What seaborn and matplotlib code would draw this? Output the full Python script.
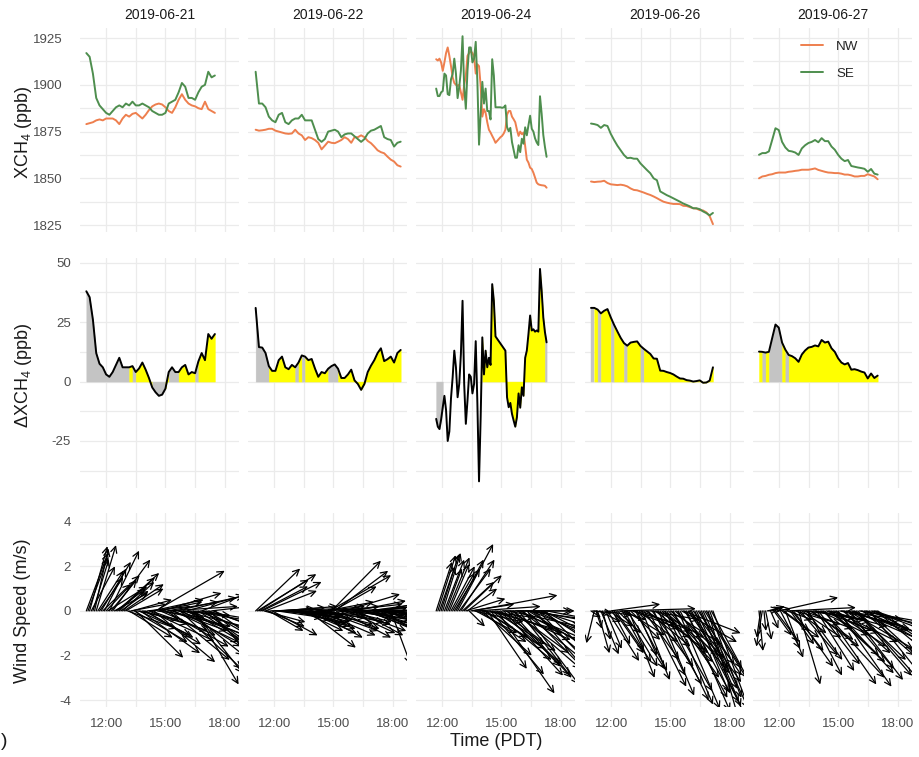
import numpy as np
import pandas as pd
import matplotlib
matplotlib.use("Agg")
import matplotlib.pyplot as plt
from matplotlib.patches import FancyArrowPatch
from matplotlib.lines import Line2D
import seaborn as sns

# ---------------------------------------------------------------- data
days = ["2019-06-21", "2019-06-22", "2019-06-24", "2019-06-26", "2019-06-27"]
start_times = ["11:00", "11:04", "11:42", "10:59", "10:59"]
step_minutes = [10, 10, 5, 10, 10]
wind_step_minutes = [5, 5, 5, 5, 5]

# column-averaged methane (ppb) at the north-west and south-east sites
nw_0621 = [1879, 1879.5, 1880, 1881, 1881.5, 1881, 1882, 1882, 1882, 1881,
           1879, 1882, 1884, 1883, 1884.5, 1885, 1883.5, 1882, 1884, 1886.5,
           1888.5, 1889.5, 1890, 1889.5, 1888, 1886, 1885, 1888, 1892, 1895,
           1892, 1890, 1889, 1888.5, 1887.5, 1887, 1891, 1887, 1886, 1885]
se_0621 = [1917, 1915, 1906, 1893, 1889, 1887, 1885, 1884, 1886, 1888,
           1889, 1888, 1890, 1889, 1891, 1889, 1889, 1890, 1889, 1888,
           1886, 1885, 1884, 1884, 1885, 1890, 1891, 1892, 1896, 1901,
           1899, 1893, 1893, 1892, 1896, 1899, 1900, 1907, 1904, 1905]

nw_0622 = [1876, 1875.5, 1875.7, 1876, 1876.5, 1876.5, 1875.5, 1875, 1874.5, 1874,
           1873.8, 1874, 1876, 1874, 1873, 1870.5, 1872, 1871.5, 1870.5, 1869,
           1865.5, 1867.5, 1869.6, 1869, 1868.8, 1869.6, 1870.5, 1872, 1871, 1869,
           1872, 1872, 1873, 1872, 1870, 1868.8, 1867, 1865, 1864, 1863.4,
           1861.6, 1860, 1859, 1857, 1856.3]
se_0622 = [1907, 1890, 1890, 1888, 1883, 1881, 1880, 1884, 1885, 1880,
           1879, 1881, 1882, 1882, 1884, 1881, 1881, 1881, 1876, 1871,
           1869.5, 1871, 1875, 1875.5, 1876, 1875, 1872, 1873.5, 1874, 1874,
           1872.5, 1871, 1869.5, 1871, 1874, 1875.5, 1876, 1877, 1878, 1872,
           1871, 1870.5, 1867, 1869, 1869.6]

nw_0624 = [1913.7, 1913.0, 1914.0, 1912.0, 1907.5, 1912.0, 1917.0, 1920.0, 1915.5, 1910.0,
           1904.0, 1901.0, 1900.0, 1899.5, 1900.0, 1896.0, 1892.0, 1900.0, 1905.0, 1915.5,
           1917.0, 1918.0, 1917.0, 1915.0, 1906.0, 1911.0, 1910.0, 1899.5, 1883.0, 1887.0,
           1885.0, 1880.0, 1876.0, 1874.5, 1872.7, 1871.0, 1869.0, 1870.0, 1871.0, 1872.0,
           1872.7, 1874.0, 1876.0, 1884.0, 1886.0, 1886.0, 1883.0, 1881.6, 1880.0, 1876.0,
           1872.7, 1875.0, 1873.6, 1874.5, 1867.3, 1860.0, 1858.4, 1855.7, 1855.0, 1853.0,
           1850.4, 1847.7, 1846.8, 1846.5, 1846.3, 1846.2, 1846.0, 1845.0]
se_0624 = [1898.0, 1894.0, 1894.0, 1896.0, 1896.7, 1906.0, 1905.0, 1895.0, 1894.5, 1903.0,
           1905.8, 1914.0, 1906.0, 1892.9, 1899.0, 1907.6, 1926.0, 1899.0, 1887.2, 1907.5,
           1920.0, 1920.0, 1912.0, 1914.0, 1923.0, 1902.0, 1868.0, 1884.5, 1901.6, 1890.0,
           1898.0, 1886.0, 1886.0, 1881.5, 1913.7, 1905.0, 1888.0, 1888.0, 1888.0, 1888.0,
           1887.7, 1888.0, 1889.0, 1877.4, 1875.2, 1877.0, 1869.4, 1865.2, 1861.0, 1861.0,
           1867.7, 1864.0, 1871.2, 1868.5, 1877.3, 1873.0, 1878.4, 1883.5, 1876.5, 1875.0,
           1871.4, 1869.2, 1867.8, 1893.9, 1884.6, 1873.2, 1866.8, 1861.5]

nw_0626 = [1848.3, 1848, 1848.2, 1848.3, 1848.7, 1847.5, 1846.8, 1846.6, 1846.4, 1846.6,
           1846.3, 1845.7, 1844.6, 1843.8, 1843.6, 1843, 1842.4, 1841.7, 1841.1, 1840.3,
           1839.4, 1838.4, 1837.5, 1837, 1836.6, 1836.3, 1836.3, 1836.2, 1835.3, 1835.2,
           1834.6, 1834, 1833.8, 1833, 1832.8, 1831.8, 1829.8, 1825.5]
se_0626 = [1879.3, 1879, 1878.5, 1877, 1878.5, 1878, 1873.8, 1870.5, 1867.5, 1865,
           1862.5, 1860.8, 1861, 1860.5, 1860.5, 1858, 1856.2, 1854.4, 1852.7, 1850,
           1849, 1843, 1842, 1841, 1840.2, 1839.3, 1838.4, 1837.5, 1836.5, 1835.8,
           1835, 1834, 1834, 1833.5, 1832.3, 1831.4, 1830.2, 1831.5]

nw_0627 = [1850, 1851, 1851.3, 1851.9, 1852.2, 1852.8, 1853.1, 1853.1, 1853.1, 1853.5,
           1853.7, 1854, 1854.2, 1854.6, 1854.6, 1854.6, 1854.9, 1855.3, 1854.5, 1854,
           1853.5, 1853.1, 1853, 1852.8, 1852.8, 1852.5, 1852, 1852, 1851.6, 1851,
           1851, 1851.3, 1851.3, 1852.2, 1851.6, 1851, 1849.5]
se_0627 = [1862.6, 1863.5, 1863.5, 1864.4, 1870.5, 1876.8, 1875.8, 1869.5, 1866.5, 1864.7,
           1864.4, 1863.8, 1862.5, 1866, 1867.7, 1868.9, 1869.5, 1870.5, 1869.3, 1871.5,
           1869.9, 1869.9, 1867, 1865.3, 1862.6, 1860.5, 1859.2, 1859.8, 1856.6, 1856.2,
           1855.8, 1855.5, 1855.1, 1853.5, 1855, 1852.5, 1852]

# wind-sector class of each interval: Y = downwind of the north-west site,
# G = other sectors, N = no wind classification
sector_0621 = "GGGGGGGGGGGGG" "Y" "G" "YYYYY" "GGGG" "Y" "GGG" "YYYYY" "G" "YYYYYY"
sector_0622 = "GGGG" "YYYYYYYY" "G" "Y" "G" "YYYYYYY" "GGG" "YYYYYYYYYYYYYYYYYYYY"
sector_0624 = "GGGG" + "N" * 24 + "Y" * 38 + "GG"
sector_0626 = "G" "Y" "G" "YYY" "G" "YYY" "G" "YYYY" "G" + "Y" * 22
sector_0627 = "Y" "G" "Y" "GGGG" "Y" "G" + "Y" * 28

# wind components (m/s), 5-minute records: u east-west, v north-south
wind_u_0621 = [1.1, 1.0, 0.9, 1.2, 0.8, 0.7, 1.0, 1.3, 1.2, 1.5,
               1.4, 1.1, 1.7, 2.0, 1.5, 1.3, 1.9, 1.7, 1.5, 2.1,
               1.8, 1.4, 1.6, 2.0, 1.9, 2.5, 2.2, 1.8, 2.0, 2.7,
               2.4, 2.1, 2.6, 3.0, 2.3, 2.5, 2.8, 2.2, 3.3, 2.9,
               2.6, 3.1, 3.5, 2.4, 2.2, 2.8, 3.0, 3.4, 3.2, 2.6,
               3.5, 3.0, 2.8, 3.3, 3.1, 2.7, 3.4, 3.1, 3.0, 3.5,
               3.6, 2.9, 2.8, 3.2, 3.3, 2.5, 2.2, 3.1, 3.0, 2.8,
               2.7, 3.3, 3.2, 2.9, 3.5, 3.0, 2.9, 3.4, 3.2]
wind_v_0621 = [2.6, 2.4, 2.9, 2.0, 2.3, 2.8, 2.95, 1.8, 1.5, 2.2,
               1.2, 1.9, 1.6, 1.1, 2.7, 1.4, 2.3, 0.8, 1.0, 1.7,
               1.5, 0.9, 1.3, 1.2, 1.0, -0.8, -1.2, 0.3, 0.5, -1.4,
               -2.1, -0.4, -1.1, -1.9, -0.6, -1.2, -1.5, 0.2, -1.35, -0.9,
               0.5, -2.3, 1.8, -0.3, 0.4, -1.1, 0.8, -0.7, -1.6, 0.4,
               0.2, -2.2, -0.9, -1.4, 0.6, -0.2, -1.1, -2.6, -1.6, -0.8,
               -1.3, 0.7, -2.0, -1.7, -0.5, -2.8, -3.3, -1.0, -1.8, -0.4,
               0.9, -2.1, -2.4, -1.5, -1.0, -2.9, 0.3, -1.2, -2.0]

wind_u_0622 = [2.25, 2.6, 2.9, 2.4, 3.0, 2.1, 2.6, 1.9, 1.75, 2.2,
               2.3, 2.7, 2.0, 2.3, 2.5, 2.9, 2.2, 2.0, 2.8, 2.5,
               2.4, 2.7, 2.0, 2.4, 2.6, 2.2, 2.3, 2.8, 2.1, 2.5,
               2.6, 2.2, 2.4, 2.8, 2.0, 2.5, 2.6, 2.3, 2.9, 2.7,
               2.2, 2.8, 3.0, 2.4, 2.6, 3.1, 2.5, 2.2, 2.7, 2.9,
               2.1, 2.6, 2.5, 3.0, 2.8, 2.3, 2.4, 2.9, 3.0, 2.7,
               2.6, 2.4, 2.3, 2.8, 3.0, 2.5, 2.7, 3.1, 2.5, 2.8,
               3.1, 2.7, 2.6, 2.9, 2.8, 2.4, 3.0, 2.6, 2.5, 3.0,
               2.9, 2.3, 1.0, 2.6, 2.4, 2.8, 2.2, 2.5, 2.0]
wind_v_0622 = [1.9, 1.4, 1.65, 1.1, 1.3, -0.5, 0.9, -0.7, -0.9, 0.05,
               -1.1, -0.1, 0.1, -0.3, -0.2, 0.2, 0.15, -0.1, -0.3, 0.1,
               -0.1, -0.5, -0.4, -0.2, -0.6, -0.3, -0.2, -0.8, -0.9, -0.4,
               -1.0, -0.5, -1.65, -0.2, -0.7, -1.2, -0.3, 0.1, -1.1, -0.6,
               0.2, -0.9, -0.5, 0.4, -0.8, 1.6, 2.25, 1.1, 1.8, -0.2,
               0.2, -1.2, -0.6, 0.3, 0.75, -0.5, -1.0, 0.1, -0.4, -0.9,
               0.45, -0.2, -1.1, 0.0, -0.7, -0.4, 0.2, -1.0, -0.9, 0.35,
               -0.3, -0.8, -1.0, -0.2, 0.3, -1.1, -0.6, 0.5, -0.8, -0.3,
               0.1, -0.9, -2.4, -0.6, -0.5, -1.0, 0.0, -0.7, -0.4]

wind_u_0624 = [0.8, 0.9, 1.0, 0.7, 0.9, 1.0, 0.8, 1.1, 1.0, 1.2,
               1.1, 1.3, 1.4, 1.8, 1.6, 1.7, 1.6, 1.9, 2.0, 1.5,
               0.8, 2.2, 4.3, 2.5, 2.1, 3.2, 2.4, 2.8, 2.5, 2.2,
               3.0, 2.0, 3.3, 2.7, 3.0, 2.6, 3.4, 2.9, 3.2, 2.8,
               3.5, 3.0, 3.3, 2.7, 3.6, 3.1, 2.9, 3.4, 3.0, 3.2,
               2.6, 3.5, 3.1, 2.8, 3.3, 3.0, 3.4, 2.9, 3.2, 3.6,
               3.0, 3.3, 2.8, 3.1, 3.5, 2.9, 3.2, 3.0]
wind_v_0624 = [2.2, 2.5, 2.55, 2.0, 2.6, 2.3, 1.9, 2.4, 2.1, 2.0,
               1.7, 1.9, 2.3, 3.0, 1.9, 2.3, 1.3, 1.6, 0.55, 1.0,
               -0.7, 0.3, 0.7, -0.5, -1.0, 0.2, -1.4, -0.3, -2.0, -1.2,
               -1.7, -2.6, -0.8, -2.85, -2.2, -1.5, -1.0, -3.7, -2.4, -1.8,
               0.0, -2.9, -1.3, -2.5, -0.7, -3.0, -1.9, -2.6, 0.0, -1.2,
               -2.9, -1.6, -2.2, -3.3, -0.4, -2.7, -1.9, -1.0, -2.4, -0.6,
               -3.1, -1.5, -2.6, -0.9, -2.0, -1.3, -2.8, -0.5]

wind_u_0626 = [0.5, 1.0, -0.4, 0.3, 0.6, 1.1, 0.9, 0.4, 1.4, 0.8,
               1.6, 1.2, 2.5, 0.9, 1.5, 1.8, 1.2, 1.4, 3.8, 1.1,
               1.7, 2.0, 1.9, 1.3, 1.5, 2.4, 2.2, 1.6, 1.0, 2.0,
               2.6, 1.4, 1.8, 2.3, 2.2, 1.9, 2.5, 2.1, 1.6, 2.7,
               2.4, 1.8, 2.1, 2.6, 2.8, 2.2, 2.3, 1.9, 2.6, 2.4,
               2.0, 2.5, 2.7, 2.1, 2.4, 2.8, 2.9, 2.3, 2.2, 2.0,
               2.6, 2.4, 2.1, 1.7, 2.5, 2.2, 1.9, 2.0, 2.3, 2.1,
               1.8, 1.5, 1.6, 2.0, 1.9]
wind_v_0626 = [-0.3, -0.1, -1.45, -0.8, -1.9, -0.5, -1.95, -1.3, -0.2, -1.7,
               -2.25, -0.7, 0.3, -1.5, -1.9, -2.3, -1.0, -0.4, 0.1, -1.8,
               -2.5, -1.1, -2.6, -3.0, -1.3, -0.8, -0.6, -2.7, -2.0, -1.4,
               -0.9, -3.1, -2.2, -1.2, -1.6, -3.4, -0.4, -2.5, -2.9, -1.9,
               -1.2, -3.8, -3.3, -2.3, -2.0, -4.0, -3.6, -1.8, -1.5, -3.0,
               -4.2, -2.1, -2.8, -4.4, -3.9, -1.4, -1.0, -3.7, -4.5, -2.6,
               -3.2, -4.1, -2.4, -3.6, -4.8, -2.9, -3.5, -4.3, -4.4, -3.0,
               -2.6, -4.7, -3.9, -3.3, -4.6]

wind_u_0627 = [0.2, -0.2, -0.3, 0.1, 0.3, 0.6, 0.8, 0.4, 0.5, 0.9,
               1.2, 0.7, 3.0, 1.0, 1.4, 1.8, 0.9, 1.3, 3.4, 1.2,
               1.6, 2.0, 2.3, 1.5, 1.1, 1.9, 2.0, 2.5, 2.6, 1.8,
               1.7, 2.2, 2.4, 2.7, 2.8, 1.9, 2.1, 2.5, 2.9, 3.1,
               2.6, 2.3, 3.0, 2.8, 2.4, 2.7, 3.2, 2.9, 2.7, 3.0,
               3.1, 2.4, 2.5, 3.2, 3.3, 2.7, 2.9, 3.4, 2.6, 2.8,
               3.0, 3.2, 3.4, 2.6, 2.8, 3.3, 3.1, 2.9, 3.5, 3.0,
               2.7, 3.3, 3.2]
wind_v_0627 = [-1.8, -1.2, -1.6, -0.9, -1.3, 0.1, 0.2, -0.8, 0.15, -1.1,
               -1.4, 0.1, 0.6, -1.7, -0.9, -1.2, -2.1, -0.4, 0.15, -1.5,
               -1.8, -2.5, -0.6, -1.0, -3.3, -2.0, -1.2, -0.8, -0.3, -2.2,
               -2.9, -1.3, -1.6, -0.4, -0.5, -2.7, -2.4, -1.1, -1.0, -3.0,
               -3.3, -0.9, -0.7, -2.3, -2.0, -1.6, -1.4, -2.8, -3.4, -0.6,
               -0.4, -1.9, -2.6, -0.8, -1.7, -3.1, -0.9, -1.3, -2.2, -2.9,
               -3.0, -0.5, -1.2, -2.0, -0.6, -1.6, -2.5, -3.2, -1.5, -1.0,
               -0.8, -2.4, -1.9]

nw_all = [nw_0621, nw_0622, nw_0624, nw_0626, nw_0627]
se_all = [se_0621, se_0622, se_0624, se_0626, se_0627]
sector_all = [sector_0621, sector_0622, sector_0624, sector_0626, sector_0627]
wind_u_all = [wind_u_0621, wind_u_0622, wind_u_0624, wind_u_0626, wind_u_0627]
wind_v_all = [wind_v_0621, wind_v_0622, wind_v_0624, wind_v_0626, wind_v_0627]

site_colors = {"NW": "#EE7F4E", "SE": "#4E8E4E"}
sector_colors = {"G": "#C4C4C4", "Y": "#FFFF00"}

# ---------------------------------------------------------------- style
sns.set_theme(style="white")
plt.rcParams["font.family"] = ["Liberation Sans", "DejaVu Sans"]
plt.rcParams["mathtext.default"] = "regular"

W, H = 919, 757
fig = plt.figure(figsize=(W / 100, H / 100), dpi=100)

col_left = [80, 248, 416, 585, 753]
col_w = 159
row_span = [(28, 232), (258, 488), (513, 707)]
row_ylim = [(1821.3, 1930.4), (-44.8, 52.0), (-4.31, 4.39)]
row_major = [[1825, 1850, 1875, 1900, 1925], [-25, 0, 25, 50], [-4, -2, 0, 2, 4]]
row_minor = [[1837.5, 1862.5, 1887.5, 1912.5], [-37.5, -12.5, 12.5, 37.5], [-3, -1, 1, 3]]
row_pad = [12.5, 6.5, 6.5]
row_titles = ["XCH$_4$ (ppb)", "\u0394XCH$_4$ (ppb)", "Wind Speed (m/s)"]
row_title_y = [132, 375, 611]
XLIM = (10.68, 18.72)


def to_hours(hhmm):
    h, m = hhmm.split(":")
    return int(h) + int(m) / 60.0


def make_axes(c, r):
    y0, y1 = row_span[r]
    ax = fig.add_axes([col_left[c] / W, 1 - y1 / H, col_w / W, (y1 - y0) / H])
    ax.set_xlim(*XLIM)
    ax.set_ylim(*row_ylim[r])
    ax.set_xticks([12, 15, 18])
    ax.set_xticks([13.5, 16.5], minor=True)
    ax.set_yticks(row_major[r])
    ax.set_yticks(row_minor[r], minor=True)
    ax.grid(which="both", color="#EBEBEB", lw=0.9)
    ax.set_axisbelow(True)
    for s in ax.spines.values():
        s.set_visible(False)
    ax.tick_params(which="both", length=0, labelsize=9.5, labelcolor="#4D4D4D")
    ax.tick_params(axis="y", pad=row_pad[r])
    ax.tick_params(axis="x", pad=8)
    if r == 2:
        ax.set_xticklabels(["12:00", "15:00", "18:00"])
    else:
        ax.set_xticklabels([])
    if c != 0:
        ax.set_yticklabels([])
    else:
        ax.set_yticklabels([f"{v:g}" for v in row_major[r]])
    return ax


for c, day in enumerate(days):
    nw = np.array(nw_all[c], dtype=float)
    se = np.array(se_all[c], dtype=float)
    n = len(nw)
    t0 = to_hours(start_times[c])
    t = t0 + np.arange(n) * step_minutes[c] / 60.0
    delta = se - nw

    # --- top: both sites
    ax = make_axes(c, 0)
    df = pd.DataFrame({"time": np.r_[t, t], "xch4": np.r_[nw, se],
                       "site": ["NW"] * n + ["SE"] * n})
    sns.lineplot(data=df, x="time", y="xch4", hue="site", hue_order=["NW", "SE"],
                 palette=site_colors, lw=1.4, legend=False, estimator=None,
                 sort=False, ax=ax)
    ax.set_xlabel("")
    ax.set_ylabel("")
    ax.set_ylim(*row_ylim[0])
    ax.set_xlim(*XLIM)
    fig.text((col_left[c] + col_w / 2) / W, 1 - 15 / H, day, ha="center",
             va="center", fontsize=10, color="#1A1A1A")
    if c == 4:
        handles = [Line2D([], [], color=site_colors[k], lw=1.4) for k in ["NW", "SE"]]
        ax.legend(handles, ["NW", "SE"], loc="upper left", bbox_to_anchor=(0.30, 0.94),
                  frameon=False, fontsize=9.6, handlelength=1.65, handletextpad=1.0,
                  labelspacing=1.1, borderpad=0, borderaxespad=0)

    # --- middle: SE minus NW, shaded by wind sector
    ax = make_axes(c, 1)
    flags = sector_all[c]
    i = 0
    while i < n - 1:
        f = flags[i]
        j = i
        while j + 1 < n - 1 and flags[j + 1] == f:
            j += 1
        if f in sector_colors:
            ax.fill_between(t[i:j + 2], 0, delta[i:j + 2], color=sector_colors[f],
                            lw=0.3, edgecolor=sector_colors[f])
        i = j + 1
    sns.lineplot(x=t, y=delta, color="black", lw=1.4, estimator=None, sort=False, ax=ax)
    ax.set_xlabel("")
    ax.set_ylabel("")
    ax.set_ylim(*row_ylim[1])
    ax.set_xlim(*XLIM)

    # --- bottom: wind vectors drawn from the time axis
    ax = make_axes(c, 2)
    wu = wind_u_all[c]
    wv = wind_v_all[c]
    tw = t0 + np.arange(len(wu)) * wind_step_minutes[c] / 60.0
    for ti, u, v in zip(tw, wu, wv):
        arrow = FancyArrowPatch((ti, 0), (ti + u, v),
                                arrowstyle="->,head_length=0.45,head_width=0.22",
                                mutation_scale=10, lw=0.9, color="black",
                                shrinkA=0, shrinkB=0)
        ax.add_patch(arrow)
    ax.set_ylim(*row_ylim[2])
    ax.set_xlim(*XLIM)

for r in range(3):
    fig.text(23 / W, 1 - row_title_y[r] / H, row_titles[r], rotation=90,
             ha="center", va="center", fontsize=13, color="#1A1A1A")

fig.text(496 / W, 1 - 742 / H, "Time (PDT)", ha="center", va="center",
         fontsize=13, color="#1A1A1A")
fig.text(0.5 / W, 1 - 741 / H, ")", ha="left", va="center", fontsize=14,
         color="#1A1A1A")

fig.savefig("out.png", dpi=100)
